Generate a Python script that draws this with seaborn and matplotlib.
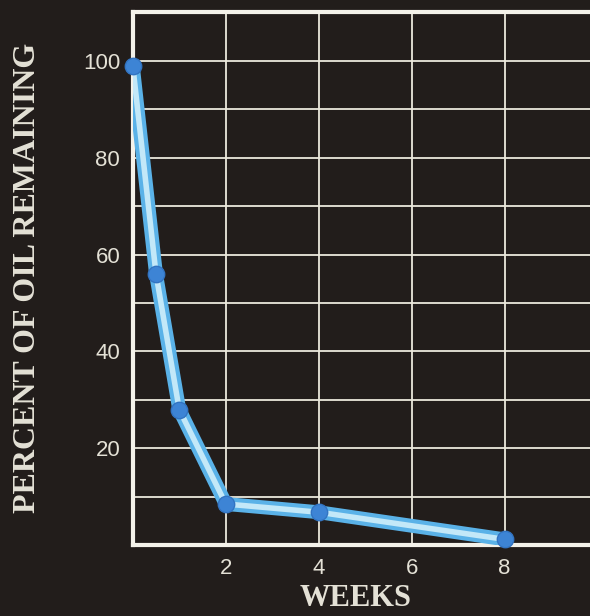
"""Oil remaining over weeks, dark chart with white grid."""

import matplotlib.pyplot as plt
import pandas as pd
import seaborn as sns
from matplotlib.ticker import MultipleLocator

weeks = [0, 0.5, 1, 2, 4, 8]
percent_remaining = [99, 56, 28, 8.5, 6.8, 1.2]
y_tick_values = [20, 40, 60, 80, 100]
x_tick_values = [2, 4, 6, 8]

BG = "#221d1b"
TEXT = "#e4e1d6"
GRID = "#ebe8dc"

df = pd.DataFrame({"weeks": weeks, "percent": percent_remaining})

sns.set_theme(style="dark")
plt.rcParams["font.family"] = ["Liberation Sans", "DejaVu Sans"]

fig = plt.figure(figsize=(5.9, 6.16), dpi=100, facecolor=BG)
ax = fig.add_axes([0.225, 0.115, 0.788, 0.865])
ax.set_facecolor(BG)

# glowing line: wide blue under a lighter core
sns.lineplot(data=df, x="weeks", y="percent", color="#5ab2e8", linewidth=10,
             solid_capstyle="round", ax=ax, zorder=3)
sns.lineplot(data=df, x="weeks", y="percent", color="#c3e8f8", linewidth=4,
             solid_capstyle="round", ax=ax, zorder=4)
sns.scatterplot(data=df, x="weeks", y="percent", color="#3d84d5", s=140,
                edgecolor="#3274c2", linewidth=1, ax=ax, zorder=5, clip_on=False)

ax.set_xlim(0, 10)
ax.set_ylim(0, 110)
ax.set_xticks(x_tick_values)
ax.set_yticks(y_tick_values)
ax.xaxis.set_minor_locator(MultipleLocator(2))
ax.yaxis.set_minor_locator(MultipleLocator(10))
ax.grid(True, which="both", color=GRID, linewidth=1.3)
ax.set_axisbelow(True)
ax.tick_params(axis="both", which="both", length=0, colors=TEXT, labelsize=16)
ax.tick_params(axis="x", pad=9)
ax.tick_params(axis="y", pad=9)

for side in ["left", "top", "bottom"]:
    ax.spines[side].set_visible(True)
    ax.spines[side].set_color("#f4f2ea")
    ax.spines[side].set_linewidth(3)
ax.spines["right"].set_visible(False)

ax.set_xlabel("")
ax.set_ylabel("")
fig.text(0.047, 0.549, "PERCENT OF OIL REMAINING", rotation=90, ha="center", va="center",
         color=TEXT, fontsize=23, family="Liberation Serif", fontweight="bold")
fig.text(0.602, 0.017, "WEEKS", ha="center", va="baseline",
         color=TEXT, fontsize=22, family="Liberation Serif", fontweight="bold")

fig.savefig("out.png", dpi=100, facecolor=BG)
